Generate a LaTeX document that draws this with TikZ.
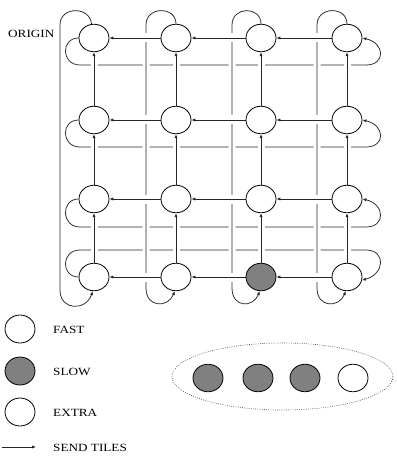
\documentclass[tikz,border=0pt]{standalone}
\usepackage{fontspec}
\usepackage{graphicx}
\setmainfont{Liberation Serif}
\usetikzlibrary{shapes.geometric,arrows.meta}
\pgfdeclarelayer{hwrap}
\pgfdeclarelayer{vwrap}
\pgfdeclarelayer{varr}
\pgfdeclarelayer{harr}
\pgfsetlayers{hwrap,vwrap,varr,harr,main}
\definecolor{tilegray}{HTML}{808080}
\newcommand{\lbl}[1]{\scalebox{1.2}[1]{#1}}
\tikzset{
  tile/.style={ellipse, draw, line width=0.8pt, minimum width=30pt, minimum height=27.5pt, inner sep=0pt, fill=white},
  slowtile/.style={tile, fill=tilegray},
  conn/.style={line width=0.75pt, draw=black!85},
  tip/.style={-{Latex[length=4pt,width=3.2pt]}},
  halo/.style={preaction={draw=white, line width=#1, -}},
  halo/.default=7pt,
  txt/.style={font=\fontsize{11}{13}\selectfont, inner sep=0pt, anchor=base west},
}
\begin{document}
\begin{tikzpicture}[x=1pt,y=-1pt]
\useasboundingbox (0,0) rectangle (396,457);
% grid of tiles
\foreach \c/\x in {1/94,2/176,3/261,4/347}{
  \foreach \r/\y in {1/38,2/120,3/199,4/277}{
    \ifnum\c\r=34
      \node[slowtile] (n\c\r) at (\x,\y) {};
    \else
      \node[tile] (n\c\r) at (\x,\y) {};
    \fi
  }
}
\node[txt] (origin) at (8,38) {\lbl{ORIGIN}};
% horizontal wrap-around lines
\begin{pgfonlayer}{hwrap}
\foreach \r/\y/\w in {1/38/65,2/120/147,3/199/227}{
  \draw[conn,tip] (n1\r.west) .. controls +(-18,0) and (61,\w) .. (80,\w) -- (366,\w)
     .. controls (386,\w) and (385,\y+5) .. (n4\r.east);
}
\draw[conn,tip] (n14.west) .. controls +(-18,0) and (61,250) .. (80,250) -- (366,250)
     .. controls (386,250) and (385,274) .. (n44.-12);
\end{pgfonlayer}
% vertical wrap-around lines
\begin{pgfonlayer}{vwrap}
\draw[conn,tip,halo] (n11.100) .. controls (90,6) and (60,6) .. (60,25) -- (60,290)
   .. controls (60,311) and (86,311) .. (n14.-95);
\foreach \c/\x/\l in {2/176/146,3/261/232,4/347/317}{
  \draw[conn,tip,halo] (n\c1.north) .. controls (\x,6) and (\l,6) .. (\l,25) -- (\l,288)
     .. controls (\l,308) and (\x-8,308) .. (n\c4.-95);
}
\end{pgfonlayer}
% vertical arrows (upward)
\begin{pgfonlayer}{varr}
\foreach \c in {1,2,3,4}{
  \foreach \r/\s in {2/1,3/2,4/3}{
    \draw[conn,tip,halo] (n\c\r.north) -- (n\c\s.south);
  }
}
\end{pgfonlayer}
% horizontal arrows (leftward)
\begin{pgfonlayer}{harr}
\foreach \r in {1,2,3,4}{
  \foreach \c/\d in {2/1,3/2,4/3}{
    \draw[conn,tip,halo=9pt] (n\c\r.west) -- (n\d\r.east);
  }
}
\end{pgfonlayer}
% legend
\node[tile, minimum height=28pt] (lfast) at (20,329) {};
\node[txt] (tfast) at (53,333) {\lbl{FAST}};
\node[slowtile, minimum height=28pt] (lslow) at (20,371) {};
\node[txt] (tslow) at (53,375) {\lbl{SLOW}};
\node[tile, minimum height=28pt] (lextra) at (20,412) {};
\node[txt] (textra) at (53,416) {\lbl{EXTRA}};
\coordinate (sa) at (2,447);
\coordinate (sb) at (36,447);
\draw[conn,tip] (sa) -- (sb);
\node[txt] (tsend) at (53,451) {\lbl{SEND TILES}};
% group ellipse
\node[ellipse, draw=black!70, line width=0.6pt, dash pattern=on 0.8pt off 1.4pt,
      minimum width=221pt, minimum height=67pt, inner sep=0pt] (grp) at (282.5,376.5) {};
\node[slowtile] (g1) at (208,378) {};
\node[slowtile] (g2) at (258,378) {};
\node[slowtile] (g3) at (305,378) {};
\node[tile] (g4) at (353,378) {};
\end{tikzpicture}
\end{document}
